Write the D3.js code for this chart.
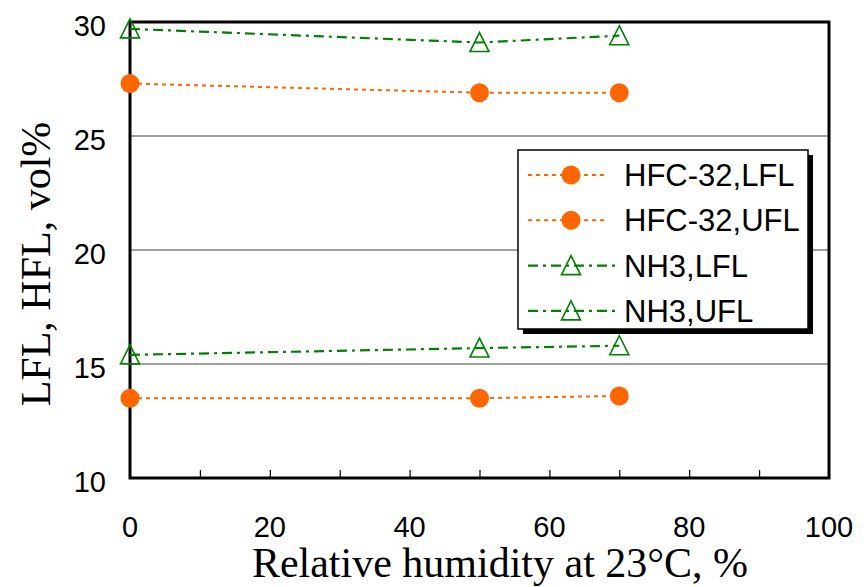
<!DOCTYPE html>
<html>
<head>
<meta charset="utf-8">
<script src="https://cdn.jsdelivr.net/npm/d3@7"></script>
<style>
  body { margin: 0; background: #fff; }
  svg { display: block; }
</style>
</head>
<body>
<div id="chart"></div>
<script>
(function(){

  var width = 867, height = 587;

  // data
  var humidity = [0, 50, 70];
  var hfcLFL = [13.5, 13.5, 13.6];
  var hfcUFL = [27.3, 26.9, 26.9];
  var nh3LFL = [15.4, 15.7, 15.8];
  var nh3UFL = [29.7, 29.1, 29.4];
  var xTicks = [0, 20, 40, 60, 80, 100];
  var yTicks = [10, 15, 20, 25, 30];
  var seriesNames = ["HFC-32,LFL", "HFC-32,UFL", "NH3,LFL", "NH3,UFL"];

  var series = [
    {name: seriesNames[0], values: hfcLFL, kind: "circle"},
    {name: seriesNames[1], values: hfcUFL, kind: "circle"},
    {name: seriesNames[2], values: nh3LFL, kind: "triangle"},
    {name: seriesNames[3], values: nh3UFL, kind: "triangle"}
  ];

  var margin = {left: 130, right: 38, top: 22, bottom: 109};
  var orange = "#ff6600", green = "#008000";

  var x = d3.scaleLinear().domain([0, 100]).range([margin.left, width - margin.right]);
  var y = d3.scaleLinear().domain([10, 30]).range([height - margin.bottom, margin.top]);

  var svg = d3.select("#chart").append("svg")
      .attr("width", width)
      .attr("height", height);

  // gridlines
  svg.append("g")
    .selectAll("line")
    .data(yTicks.filter(function(d){ return d > 10 && d < 30; }))
    .enter().append("line")
      .attr("x1", x(0)).attr("x2", x(100))
      .attr("y1", function(d){ return y(d); })
      .attr("y2", function(d){ return y(d); })
      .attr("stroke", "#808080")
      .attr("stroke-width", 1.5);

  // x minor ticks pointing inward
  var xAxis = d3.axisBottom(x).tickValues(d3.range(10, 100, 10)).tickSize(-8).tickFormat("");
  var gx = svg.append("g")
      .attr("transform", "translate(0," + y(10) + ")")
      .call(xAxis);
  gx.select(".domain").remove();
  gx.selectAll("line").attr("stroke", "#000").attr("stroke-width", 1.2);

  // tick labels
  svg.append("g")
    .selectAll("text")
    .data(xTicks)
    .enter().append("text")
      .attr("x", function(d){ return x(d); })
      .attr("y", 537)
      .attr("text-anchor", "middle")
      .attr("font-family", "Liberation Sans, Arial, sans-serif")
      .attr("font-size", 29)
      .text(function(d){ return d; });

  svg.append("g")
    .selectAll("text")
    .data(yTicks)
    .enter().append("text")
      .attr("x", 106)
      .attr("y", function(d){ return y(d) + 14; })
      .attr("text-anchor", "end")
      .attr("font-family", "Liberation Sans, Arial, sans-serif")
      .attr("font-size", 29)
      .text(function(d){ return d; });

  // frame
  svg.append("rect")
      .attr("x", x(0)).attr("y", y(30))
      .attr("width", x(100) - x(0))
      .attr("height", y(10) - y(30))
      .attr("fill", "none")
      .attr("stroke", "#000")
      .attr("stroke-width", 3);

  var line = d3.line()
      .x(function(d, i){ return x(humidity[i]); })
      .y(function(d){ return y(d); });

  function triPath(cx, cy){
    return "M" + cx + "," + (cy - 10) + "L" + (cx + 9.5) + "," + (cy + 9) + "L" + (cx - 9.5) + "," + (cy + 9) + "Z";
  }

  function drawMarker(g, kind, cx, cy){
    if (kind === "circle") {
      g.append("circle").attr("cx", cx).attr("cy", cy).attr("r", 9.5).attr("fill", orange);
    } else {
      g.append("path").attr("d", triPath(cx, cy)).attr("fill", "none")
        .attr("stroke", green).attr("stroke-width", 1.6);
    }
  }

  function styleLine(sel, kind){
    if (kind === "circle") {
      sel.attr("stroke", orange).attr("stroke-width", 2).attr("stroke-dasharray", "4,4");
    } else {
      sel.attr("stroke", green).attr("stroke-width", 2.2).attr("stroke-dasharray", "10,5,3,5");
    }
  }

  var plot = svg.append("g");
  series.forEach(function(s){
    styleLine(plot.append("path").datum(s.values).attr("d", line).attr("fill", "none"), s.kind);
    s.values.forEach(function(v, i){
      drawMarker(plot, s.kind, x(humidity[i]), y(v));
    });
  });

  // legend
  var lg = svg.append("g").attr("transform", "translate(518,150)");
  lg.append("rect").attr("x", 5).attr("y", 5).attr("width", 290).attr("height", 179).attr("fill", "#000");
  lg.append("rect").attr("x", 0).attr("y", 0).attr("width", 290).attr("height", 179)
    .attr("fill", "#fff").attr("stroke", "#000").attr("stroke-width", 1.5);

  series.forEach(function(s, i){
    var cy = 25 + i * 45.3;
    var l = lg.append("line").attr("x1", 10).attr("x2", s.kind === "circle" ? 90 : 97)
      .attr("y1", cy).attr("y2", cy);
    styleLine(l, s.kind);
    drawMarker(lg, s.kind, 53, cy);
    lg.append("text")
      .attr("x", 106)
      .attr("y", cy + 11)
      .attr("font-family", "Liberation Sans, Arial, sans-serif")
      .attr("font-size", 31)
      .text(s.name);
  });

  // axis titles
  svg.append("text")
      .attr("x", 500)
      .attr("y", 577)
      .attr("text-anchor", "middle")
      .attr("font-family", "Liberation Serif, Times New Roman, serif")
      .attr("font-size", 42)
      .text("Relative humidity at 23°C, %");

  svg.append("text")
      .attr("transform", "translate(50,264) rotate(-90)")
      .attr("text-anchor", "middle")
      .attr("font-family", "Liberation Serif, Times New Roman, serif")
      .attr("font-size", 42)
      .text("LFL, HFL, vol%");

})();
</script>
</body>
</html>
